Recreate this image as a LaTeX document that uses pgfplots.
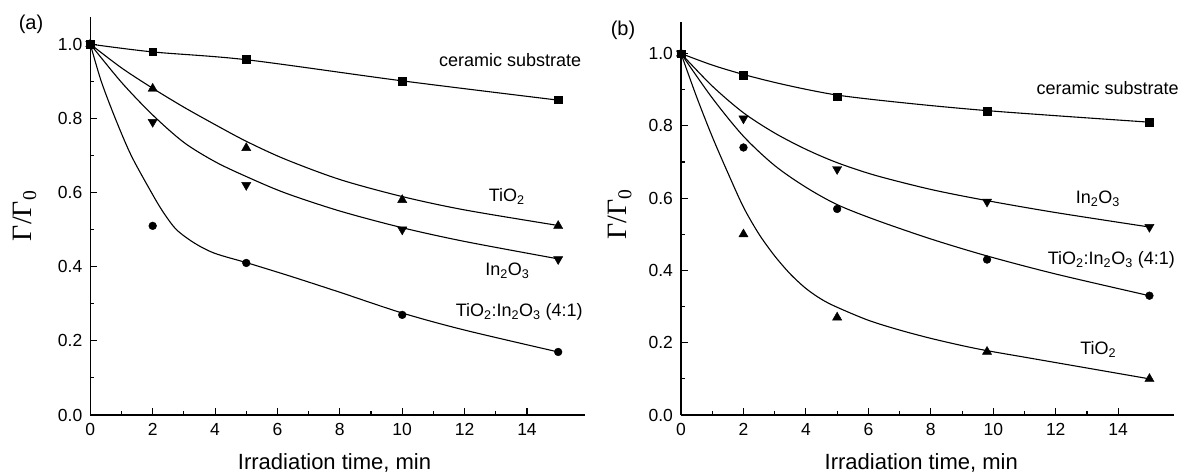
\documentclass[border=0pt]{standalone}
\usepackage{fontspec}
\setmainfont{Liberation Sans}
\newfontfamily\seriffont{Liberation Serif}
\usepackage{pgfplots}
\pgfplotsset{compat=1.18}

\tikzset{lab/.style={font=\fontsize{18}{21}\selectfont, anchor=base}}
\pgfplotsset{
  myaxis/.style={
    scale only axis,
    axis x line*=bottom, axis y line*=left,
    axis line style={line width=1.2pt,-},
    xmin=0, ymin=0,
    xtick={0,2,4,6,8,10,12,14},
    ytick={0,0.2,0.4,0.6,0.8,1.0},
    minor x tick num=1, minor y tick num=1,
    tick align=inside,
    major tick length=7pt, minor tick length=4pt,
    every tick/.style={line width=1.1pt,black},
    tick label style={font=\fontsize{17.5}{20}\selectfont},
    /pgf/number format/assume math mode=true,
    y tick label style={/pgf/number format/fixed,/pgf/number format/fixed zerofill,/pgf/number format/precision=1, xshift=-4.5pt},
    x tick label style={yshift=-4.5pt},
    xlabel style={font=\fontsize{22}{26}\selectfont, anchor=base},
    ylabel style={font=\fontsize{28}{32}\selectfont\seriffont, anchor=center, rotate=0},
    clip=false,
  },
  curve/.style={smooth, no marks, line width=1.1pt, black},
  sq/.style={only marks, mark=square*, mark size=3.8pt, black},
  ci/.style={only marks, mark=*, mark size=3.9pt, black},
  tu/.style={only marks, mark=triangle*, mark size=5.3pt, black},
  td/.style={only marks, mark=triangle*, mark size=5.3pt, mark options={rotate=180}, black},
}

\begin{document}
\begin{tikzpicture}
\path[use as bounding box] (0,0) rectangle (1185pt,472pt);

% ---------------- panel (a) ----------------
\begin{axis}[myaxis,
  at={(90.3pt,57pt)}, anchor=south west,
  width=494.7pt, height=398.3pt,
  xmax=15.86, ymax=1.074,
  xlabel={Irradiation time, min},
  xlabel style={at={(axis description cs:0.4936,-0.1356)}},
  ylabel={Γ/Γ\textsubscript{0}},
  ylabel style={at={(axis description cs:-0.1324,0.50)}},
]
\addplot[curve] coordinates {(0,1.0) (2,0.979) (5,0.958) (10,0.901) (15,0.849)};
\addplot[curve] coordinates {(0,1.0) (1,0.936) (2,0.881) (3,0.83) (4,0.783) (5,0.738) (6.24,0.69) (8,0.635) (10,0.589) (12,0.553) (15,0.511)};
\addplot[curve] coordinates {(0,1.0) (1,0.897) (2,0.809) (3,0.735) (4,0.683) (5,0.643) (6.24,0.599) (8,0.55) (10,0.505) (12,0.468) (15,0.421)};
\addplot[curve] coordinates {(0,1.0) (0.35,0.9) (0.8,0.8) (1.31,0.7) (1.96,0.6) (2.33,0.548) (2.76,0.5) (3.35,0.463) (3.99,0.436) (5,0.411) (5.7,0.393) (6.5,0.372) (8,0.331) (10,0.275) (12,0.229) (15,0.17)};
\addplot[sq] coordinates {(0,1) (2,0.98) (5,0.96) (10,0.90) (15,0.85)};
\addplot[tu] coordinates {(0,1) (2,0.88) (5,0.72) (10,0.58) (15,0.51)};
\addplot[td] coordinates {(0,1) (2,0.79) (5,0.62) (10,0.50) (15,0.42)};
\addplot[ci] coordinates {(0,1) (2,0.51) (5,0.41) (10,0.27) (15,0.17)};
\node[lab, anchor=base east] at (axis cs:15.85,0.941) {ceramic substrate};
\node[lab] at (axis cs:13.35,0.575) {TiO\textsubscript{2}};
\node[lab] at (axis cs:13.37,0.377) {In\textsubscript{2}O\textsubscript{3}};
\node[lab] at (axis cs:13.75,0.265) {TiO\textsubscript{2}:In\textsubscript{2}O\textsubscript{3} (4:1)};
\end{axis}

% ---------------- panel (b) ----------------
\begin{axis}[myaxis,
  at={(681pt,57pt)}, anchor=south west,
  width=493.4pt, height=393.3pt,
  xmax=15.8, ymax=1.088,
  xlabel={Irradiation time, min},
  xlabel style={at={(axis description cs:0.487,-0.1373)}},
  ylabel={Γ/Γ\textsubscript{0}},
  ylabel style={at={(axis description cs:-0.1236,0.51)}},
]
\addplot[curve] coordinates {(0,1.0) (1,0.968) (2,0.942) (3,0.92) (4,0.901) (5,0.885) (6.22,0.872) (8,0.856) (9.8,0.842) (12,0.828) (15,0.81)};
\addplot[curve] coordinates {(0,1.0) (1,0.91) (2,0.836) (3,0.78) (4,0.735) (5,0.698) (6.22,0.663) (8,0.624) (9.8,0.593) (12,0.56) (15,0.52)};
\addplot[curve] coordinates {(0,1.0) (1,0.877) (2,0.771) (3,0.69) (4,0.63) (5,0.582) (6.22,0.54) (8,0.487) (9.8,0.44) (12,0.39) (15,0.33)};
\addplot[curve] coordinates {(0,1.0) (0.5,0.88) (1,0.77) (1.5,0.67) (2,0.575) (2.5,0.50) (3,0.44) (3.5,0.39) (4,0.35) (4.5,0.32) (5,0.298) (6,0.262) (7,0.235) (8,0.212) (9,0.192) (9.8,0.178) (11,0.16) (12,0.145) (13,0.13) (14,0.115) (15,0.10)};
\addplot[sq] coordinates {(0,1) (2,0.94) (5,0.88) (9.8,0.84) (15,0.81)};
\addplot[td] coordinates {(0,1) (2,0.82) (5,0.68) (9.8,0.59) (15,0.52)};
\addplot[ci] coordinates {(0,1) (2,0.74) (5,0.57) (9.8,0.43) (15,0.33)};
\addplot[tu] coordinates {(0,1) (2,0.50) (5,0.27) (9.8,0.175) (15,0.10)};
\node[lab, anchor=base east] at (axis cs:16.05,0.887) {ceramic substrate};
\node[lab] at (axis cs:13.35,0.586) {In\textsubscript{2}O\textsubscript{3}};
\node[lab] at (axis cs:13.78,0.415) {TiO\textsubscript{2}:In\textsubscript{2}O\textsubscript{3} (4:1)};
\node[lab] at (axis cs:13.36,0.166) {TiO\textsubscript{2}};
\end{axis}

\node[font=\fontsize{20}{24}\selectfont] at (31pt,448pt) {(a)};
\node[font=\fontsize{20}{24}\selectfont] at (623pt,442pt) {(b)};
\end{tikzpicture}
\end{document}
